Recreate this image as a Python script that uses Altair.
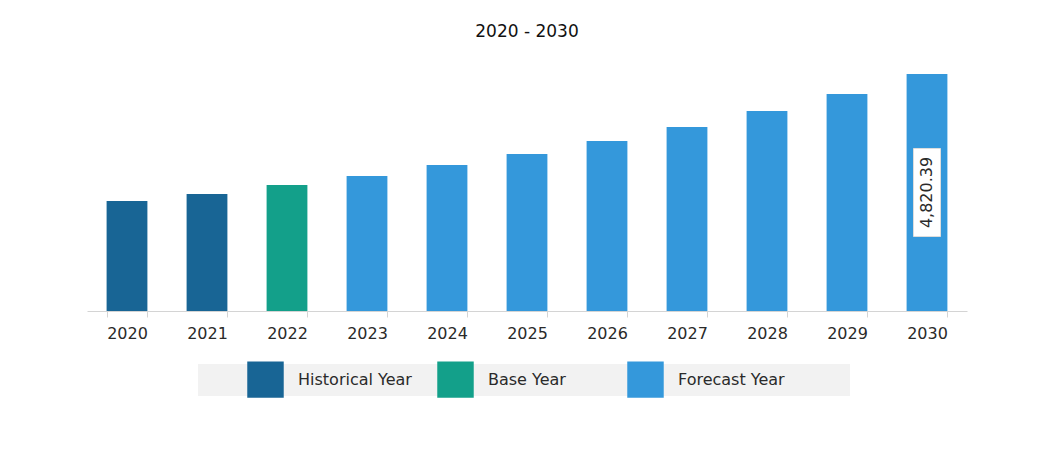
import altair as alt
import pandas as pd

years = ["2020", "2021", "2022", "2023", "2024", "2025", "2026", "2027", "2028", "2029", "2030"]
values = [2237, 2380, 2563, 2746, 2970, 3194, 3458, 3743, 4068, 4414, 4820.39]
kinds = ["Historical Year", "Historical Year", "Base Year"] + ["Forecast Year"] * 8
kind_order = ["Historical Year", "Base Year", "Forecast Year"]
kind_colors = ["#186595", "#13a08a", "#3498db"]
label_year = "2030"

df = pd.DataFrame({"Year": years, "Value": values, "Type": kinds})
df["Mid"] = df["Value"] / 2
df["Label"] = df["Value"].map(lambda v: f"{v:,.2f}")

FONT = "DejaVu Sans"
W, H = 880, 261
YMAX = 5308

yscale = alt.Scale(domain=[0, YMAX], nice=False, zero=True)

xenc = alt.X("Year:N", sort=years, title=None,
             scale=alt.Scale(paddingInner=0.49, paddingOuter=0.245),
             axis=alt.Axis(labelAngle=0, labelFontSize=16, labelFont=FONT, labelColor="#2a2a2a",
                           domainColor="#d4d4d4", tickColor="#d4d4d4", tickSize=6, tickWidth=1,
                           labelPadding=8, bandPosition=0, tickBand="extent"))

bg = alt.Chart(pd.DataFrame({"a": [0]})).mark_rect(color="#f2f2f2").encode(
    x=alt.value(111), x2=alt.value(763), y=alt.value(314), y2=alt.value(346))

bars = alt.Chart(df).mark_bar().encode(
    x=xenc,
    y=alt.Y("Value:Q", scale=yscale, axis=None),
    color=alt.Color("Type:N", sort=kind_order,
                    scale=alt.Scale(domain=kind_order, range=kind_colors),
                    legend=alt.Legend(title=None, orient="none", legendX=160, legendY=311,
                                      direction="horizontal", columns=3, gridAlign="all",
                                      symbolType="square", symbolSize=1330, symbolStrokeWidth=0,
                                      symbolOpacity=1,
                                      labelFont=FONT, labelFontSize=16, labelColor="#2a2a2a",
                                      labelOffset=14, columnPadding=25, labelLimit=300)),
)

lab_df = df[df["Year"] == label_year]
box = alt.Chart(lab_df).mark_rect(width=27, height=88, fill="white", stroke="#dddddd",
                                  strokeWidth=1).encode(
    x=alt.X("Year:N", sort=years), y=alt.Y("Mid:Q", scale=yscale))
txt = alt.Chart(lab_df).mark_text(angle=270, font=FONT, fontSize=16, color="#2a2a2a",
                                  baseline="middle", align="center").encode(
    x=alt.X("Year:N", sort=years), y=alt.Y("Mid:Q", scale=yscale), text="Label:N")

chart = alt.layer(bg, bars, box, txt).properties(
    width=W, height=H,
    background="white",
    title=alt.TitleParams("2020 - 2030", font=FONT, fontSize=17, fontWeight="normal",
                          color="#111", offset=9, anchor="middle"),
    autosize=alt.AutoSizeParams(type="none"),
    padding={"left": 79, "top": 42, "right": 80, "bottom": 141},
).configure_view(stroke=None, strokeWidth=0)

chart.save("out.html", embed_options={"renderer": "svg", "actions": False})
